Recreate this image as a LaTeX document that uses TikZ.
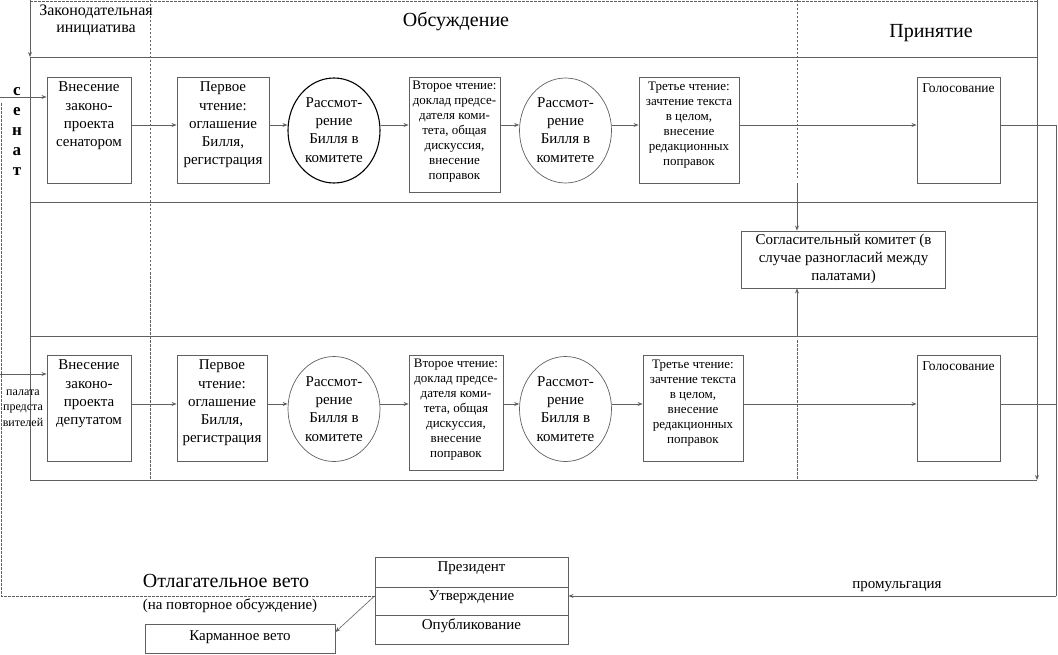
\documentclass[tikz,border=0pt]{standalone}
\usepackage{fontspec}
\setmainfont{Liberation Serif}
\usetikzlibrary{shapes.geometric,arrows.meta}
\definecolor{lncol}{HTML}{606060}
\begin{document}
\begin{tikzpicture}[x=1pt,y=-1pt,
  gline/.style={draw=lncol,line width=0.9pt},
  dsh/.style={draw=lncol,line width=0.8pt,dash pattern=on 2.5pt off 1.5pt},
  arr/.style={gline,-{Stealth[length=5pt,width=4pt]}},
  thinarr/.style={draw=lncol,line width=0.6pt,-{Stealth[length=5pt,width=4pt]}},
  box/.style={draw=lncol,line width=0.9pt,rectangle,inner sep=0pt,fill=white},
  ell/.style={draw=lncol,line width=0.7pt,ellipse,inner sep=0pt,minimum width=92pt,minimum height=105pt,fill=white},
  blackell/.style={ell,draw=black,line width=1.1pt},
  tbig/.style={font=\fontsize{15}{18.3}\selectfont,align=center,inner sep=0pt},
  tsmall/.style={font=\fontsize{13}{15}\selectfont,align=center,inner sep=0pt},
  thead/.style={font=\fontsize{20}{24}\selectfont,inner sep=0pt},
  trow/.style={font=\fontsize{15}{18}\selectfont,inner sep=0pt}
]
\useasboundingbox (0,0) rectangle (1058,655);
% ---- frame coordinates
\coordinate (tl) at (30,0);
\coordinate (hl) at (30,57);
\coordinate (bl) at (30,480);
\coordinate (tr) at (1037,0);
\coordinate (br) at (1037,480);
% lanes
\draw[gline] (hl) -- (hl -| tr);
\draw[gline] (30,202) -- (1037,202);
\draw[gline] (30,336) -- (1037,336);
\draw[gline] (bl) -- (br);
\draw[dsh] (30,1) -- (1037,1);
\draw[dsh] (150,0) -- (150,480);
\draw[dsh] (797,0) -- (797,178);
\draw[dsh] (797,340) -- (797,480);
\draw[arr] (tl) -- (hl);
\draw[gline] (hl) -- (bl);
\draw[arr] (tr) -- (br);
% ---- headers
\node[tbig,font=\fontsize{16}{17}\selectfont] (hz) at (96,20.5) {Законодательная\\инициатива};
\node[thead] (hd) at (456,22) {Обсуждение};
\node[thead] (hp) at (931,33) {Принятие};
\node[font=\bfseries\fontsize{17}{20}\selectfont,align=center,inner sep=0pt] (sen) at (17,131) {с\\е\\н\\а\\т};
\node[font=\fontsize{12}{15.5}\selectfont,align=center,inner sep=0pt] (pal) at (23,408) {палата\\предста\\вителей};
% ---- lane 1
\node[box,minimum width=84pt,minimum height=106pt] (a1) at (89,130) {};
\node[box,minimum width=92pt,minimum height=106pt] (a2) at (223,130) {};
\node[blackell] (a3) at (334,130.5) {};
\node[box,minimum width=91pt,minimum height=115pt] (a4) at (454.5,134.5) {};
\node[ell] (a5) at (565.5,130.5) {};
\node[box,minimum width=100pt,minimum height=106pt] (a6) at (689,130) {};
\node[box,minimum width=83pt,minimum height=106pt] (a7) at (958.5,130) {};
\node[tbig] (a1t) at (89,116) {Внесение\\законо-\\проекта\\сенатором};
\node[tbig] (a2t) at (223,125) {Первое\\чтение:\\оглашение\\Билля,\\регистрация};
\node[tbig] (a3t) at (334,130) {Рассмот-\\рение\\Билля в\\комитете};
\node[tsmall] (a4t) at (454.5,132) {Второе чтение:\\доклад предсе-\\дателя коми-\\тета, общая\\дискуссия,\\внесение\\поправок};
\node[tbig] (a5t) at (565.5,130) {Рассмот-\\рение\\Билля в\\комитете};
\node[tsmall] (a6t) at (689,125) {Третье чтение:\\зачтение текста\\в целом,\\внесение\\редакционных\\поправок};
\node[font=\fontsize{13.5}{16}\selectfont,inner sep=0pt] (a7t) at (958.5,88) {Голосование};
% ---- lane 2
\node[box,minimum width=84pt,minimum height=106pt] (b1) at (89,408) {};
\node[box,minimum width=90pt,minimum height=106pt] (b2) at (222,408) {};
\node[ell] (b3) at (334,409) {};
\node[box,minimum width=94pt,minimum height=115pt] (b4) at (456,412.5) {};
\node[ell] (b5) at (565.5,409) {};
\node[box,minimum width=100pt,minimum height=106pt] (b6) at (693,408) {};
\node[box,minimum width=83pt,minimum height=106pt] (b7) at (958.5,408) {};
\node[tbig] (b1t) at (89,394) {Внесение\\законо-\\проекта\\депутатом};
\node[tbig] (b2t) at (222,403) {Первое\\чтение:\\оглашение\\Билля,\\регистрация};
\node[tbig] (b3t) at (334,409) {Рассмот-\\рение\\Билля в\\комитете};
\node[tsmall] (b4t) at (456,410) {Второе чтение:\\доклад предсе-\\дателя коми-\\тета, общая\\дискуссия,\\внесение\\поправок};
\node[tbig] (b5t) at (565.5,409) {Рассмот-\\рение\\Билля в\\комитете};
\node[tsmall] (b6t) at (693,403) {Третье чтение:\\зачтение текста\\в целом,\\внесение\\редакционных\\поправок};
\node[font=\fontsize{13.5}{16}\selectfont,inner sep=0pt] (b7t) at (958.5,366) {Голосование};
% ---- committee
\node[box,minimum width=204pt,minimum height=57pt] (com) at (843.5,259.5) {};
\node[tbig,font=\fontsize{15}{18}\selectfont] (comt) at (843.5,259) {Согласительный комитет (в\\случае разногласий между\\палатами)};
% ---- president
\node[box,minimum width=193pt,minimum height=30pt] (p1) at (471.5,572) {};
\node[box,minimum width=193pt,minimum height=28pt] (p2) at (471.5,601) {};
\node[box,minimum width=193pt,minimum height=29pt] (p3) at (471.5,629.5) {};
\node[trow] (p1t) at (471.5,568) {Президент};
\node[trow] (p2t) at (471.5,597) {Утверждение};
\node[trow] (p3t) at (471.5,626) {Опубликование};
\node[box,minimum width=190pt,minimum height=29pt] (kv) at (240,638.5) {};
\node[trow] (kvt) at (240,637) {Карманное вето};
\node[font=\fontsize{20}{24}\selectfont,inner sep=0pt] (ov) at (226,581) {Отлагательное вето};
\node[trow] (ovt) at (230,606) {(на повторное обсуждение)};
\node[trow] (prom) at (897,587) {промульгация};
% ---- connectors
\coordinate (s1) at (0,97);
\coordinate (s2) at (0,374);
\coordinate (r1) at (0,125);
\coordinate (r2) at (0,404);
\draw[arr] (s1) -- (s1 -| a1.west);
\draw[arr] (s2) -- (s2 -| b1.west);
\draw[arr] (a1.east |- r1) -- (a2.west |- r1);
\draw[arr] (a2.east |- r1) -- (a3.west |- r1);
\draw[arr] (a3.east |- r1) -- (a4.west |- r1);
\draw[arr] (a4.east |- r1) -- (a5.west |- r1);
\draw[arr] (a5.east |- r1) -- (a6.west |- r1);
\draw[arr] (a6.east |- r1) -- (a7.west |- r1);
\draw[arr] (b1.east |- r2) -- (b2.west |- r2);
\draw[arr] (b2.east |- r2) -- (b3.west |- r2);
\draw[arr] (b3.east |- r2) -- (b4.west |- r2);
\draw[arr] (b4.east |- r2) -- (b5.west |- r2);
\draw[arr] (b5.east |- r2) -- (b6.west |- r2);
\draw[arr] (b6.east |- r2) -- (b7.west |- r2);
\coordinate (cu) at (797,183);
\coordinate (cd) at (797,336);
\draw[arr] (cu) -- (cu |- com.north);
\draw[arr] (cd) -- (cd |- com.south);
\coordinate (rt) at (1056,125);
\coordinate (rm) at (1056,404);
\coordinate (rb) at (1056,596);
\draw[gline] (a7.east |- r1) -- (rt) -- (rb);
\draw[gline] (b7.east |- r2) -- (rm);
\draw[arr] (rb) -- (rb -| p2.east);
\coordinate (lb) at (1,596);
\coordinate (lt) at (1,103);
\draw[dsh] (lb -| p2.west) -- (lb) -- (lt);
\draw[thinarr] (lb -| p2.west) -- ([yshift=6.5pt]kv.east);
\end{tikzpicture}
\end{document}
